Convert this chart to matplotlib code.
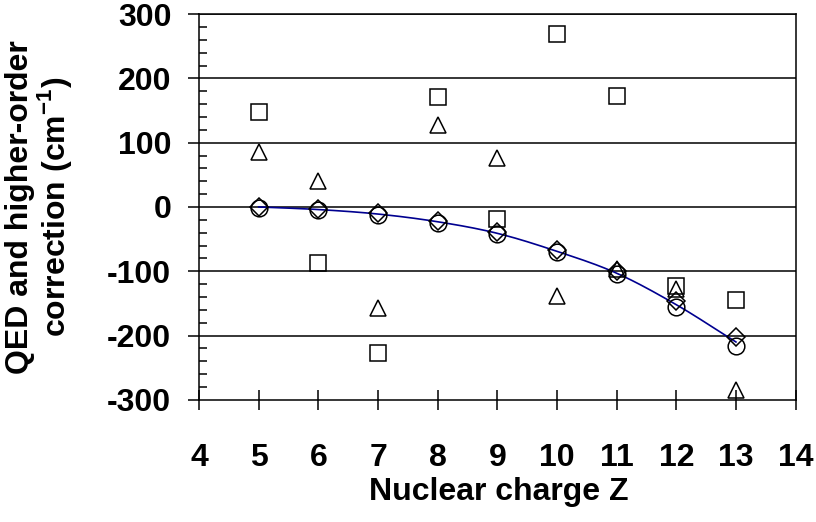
import numpy as np
import matplotlib
matplotlib.use("Agg")
import matplotlib.pyplot as plt
from matplotlib.ticker import MultipleLocator

plt.rcParams['font.family'] = ['Liberation Sans', 'DejaVu Sans']
plt.rcParams['font.weight'] = 'bold'
plt.rcParams['axes.unicode_minus'] = False

Z = [5, 6, 7, 8, 9, 10, 11, 12, 13]

# four calculations of the correction, cm^-1
squares   = [148, -87, -227, 171, -19, 269, 173, -123, -145]
triangles = [86, 40, -157, 128, 76, -138, -97, -127, -285]
diamonds  = [0, -3, -10, -22, -39, -67, -100, -146, -203]
circles   = [-1, -5, -12, -25, -42, -70, -104, -155, -216]

# smooth reference curve
curve = [0, -4, -11, -23, -41, -69, -103, -152, -210]


def catmull_rom(x, y, n=20):
    x = np.asarray(x, float)
    y = np.asarray(y, float)
    px = np.concatenate([[2*x[0] - x[1]], x, [2*x[-1] - x[-2]]])
    py = np.concatenate([[2*y[0] - y[1]], y, [2*y[-1] - y[-2]]])
    xs, ys = [], []
    t = np.linspace(0, 1, n, endpoint=False)
    for i in range(1, len(px) - 2):
        for p, out in ((px, xs), (py, ys)):
            p0, p1, p2, p3 = p[i-1], p[i], p[i+1], p[i+2]
            out.extend(0.5*((2*p1) + (-p0 + p2)*t
                            + (2*p0 - 5*p1 + 4*p2 - p3)*t**2
                            + (-p0 + 3*p1 - 3*p2 + p3)*t**3))
    xs.append(x[-1])
    ys.append(y[-1])
    return np.array(xs), np.array(ys)


fig = plt.figure(figsize=(8.16, 5.22), dpi=100)
ax = fig.add_axes([0.244, 0.234, 0.731, 0.739])

for yv in range(-200, 301, 100):
    ax.axhline(yv, color='black', lw=1.1, zorder=1)

cx, cy = catmull_rom(Z, curve)
ax.plot(cx, cy, color='#000090', lw=1.2, zorder=2)

mk = dict(ls='none', mfc='none', mec='black', mew=1.1, zorder=3)
ax.plot(Z, squares, marker='s', ms=12, **mk)
ax.plot(Z, triangles, marker='^', ms=12, **mk)
ax.plot(Z, diamonds, marker='D', ms=8.8, **mk)
ax.plot(Z, circles, marker='o', ms=12, **mk)

ax.set_xlim(4, 14)
ax.set_ylim(-300, 300)
ax.xaxis.set_major_locator(MultipleLocator(1))
ax.yaxis.set_major_locator(MultipleLocator(100))
ax.yaxis.set_minor_locator(MultipleLocator(20))

ax.tick_params(axis='x', direction='inout', length=14, width=1.1,
               pad=24, labelsize=23)
ax.tick_params(axis='y', which='major', direction='out', length=8,
               width=1.1, pad=12, labelsize=23)
ax.tick_params(axis='y', which='minor', direction='in', length=6,
               width=1.1)
for lbl in ax.get_xticklabels() + ax.get_yticklabels():
    lbl.set_fontweight('bold')

for s in ax.spines.values():
    s.set_linewidth(1.1)
    s.set_color('black')

fig.text(0.5 * (365 + 633) / 816, 1 - 492 / 522, 'Nuclear charge Z',
         ha='center', va='center', fontsize=23, fontweight='bold')
fig.text(40 / 816, 0.5 * (0.234 + 0.973),
         'QED and higher-order\ncorrection (cm$^{\\mathregular{-1}}$)',
         ha='center', va='center', rotation=90, fontsize=23,
         fontweight='bold', multialignment='center', linespacing=1.0)

fig.savefig('out.png', dpi=100)
